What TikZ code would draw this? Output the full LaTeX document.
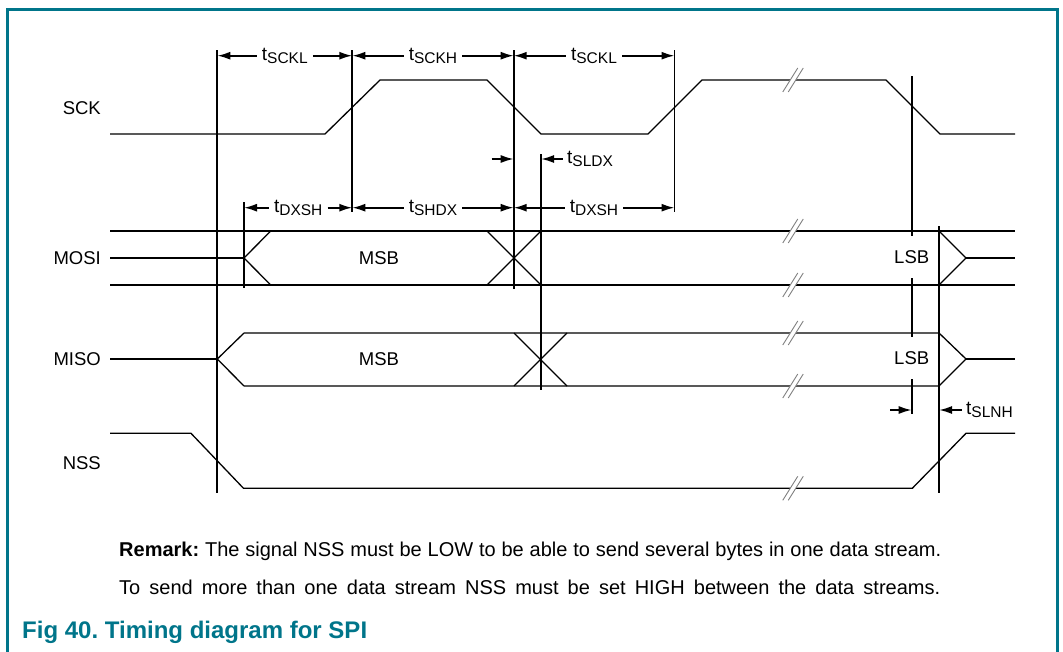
\documentclass[tikz,border=0pt]{standalone}
\usepackage{fontspec}
\setmainfont{Liberation Sans}
\usetikzlibrary{arrows.meta}
\definecolor{nxpteal}{RGB}{0,117,138}
\frenchspacing
\newcommand{\tsub}[1]{t\raisebox{-3.5pt}{\fontsize{15.5}{16}\selectfont #1}}
\newcommand{\brkmark}[1]{%
  \begin{scope}[shift={(#1)}]
    \draw[white, line width=4.8pt] (-7.5,12) -- (7.5,-12);
    \draw[gray, line width=0.9pt] (-10.25,12) -- (4.75,-12);
    \draw[gray, line width=0.9pt] (-4.75,12) -- (10.25,-12);
  \end{scope}}
\begin{document}
\begin{tikzpicture}[x=1pt,y=-1pt,
  vl/.style={line width=1.8pt},
  sig/.style={line width=1.3pt, line join=miter},
  dim/.style={line width=1.8pt,-{Latex[length=13pt,width=8pt]}},
  lab/.style={font=\fontsize{18.5}{22}\selectfont, inner sep=0pt},
  tlab/.style={font=\fontsize{19}{22}\selectfont, inner xsep=5pt, inner ysep=0pt},
  lsb/.style={font=\fontsize{18.5}{22}\selectfont, fill=white, inner xsep=2pt, inner ysep=0pt, minimum height=42pt}]
\useasboundingbox (0,0) rectangle (1063,651);
% frame
\draw[nxpteal, line width=3pt] (7.5,652) -- (7.5,9.5) -- (1057,9.5) -- (1057,652);

% signal names
\node[lab, anchor=east] (nsck) at (101,108) {SCK};
\node[lab, anchor=east] (nmosi) at (101,258) {MOSI};
\node[lab, anchor=east] (nmiso) at (101,359) {MISO};
\node[lab, anchor=east] (nnss) at (101,463) {NSS};

% SCK
\draw[sig] (110,134) -- (325,134) -- (380,80) -- (487,80) -- (541,134) -- (648,134) -- (702,80) -- (886,80) -- (940,134) -- (1015,134);
% MOSI
\draw[sig] (110,231) -- (1015,231);
\draw[sig] (110,285) -- (1015,285);
\draw[line width=1.8pt] (110,258) -- (164,258);
\draw[sig] (164,258) -- (244,258);
\draw[sig] (270.7,231) -- (244,258) -- (270.7,285);
\draw[sig] (487,231) -- (541,285);
\draw[sig] (487,285) -- (541,231);
\draw[sig] (939,231) -- (966,258) -- (939,285);
\draw[sig] (966,258) -- (1015,258);
% MISO
\draw[sig] (110,359) -- (217.3,359);
\draw[sig] (244,333) -- (217.3,359) -- (244,386);
\draw[sig] (244,333) -- (939,333) -- (966,359) -- (939,386) -- (244,386);
\draw[sig] (514,333) -- (567,386);
\draw[sig] (514,386) -- (567,333);
\draw[sig] (966,359) -- (1015,359);
% NSS
\draw[sig] (110,433.3) -- (191,433.3) -- (243.5,488.3) -- (912.3,488.3) -- (966,433.3) -- (1015,433.3);

% breaks
\brkmark{793,80}
\brkmark{793,231}
\brkmark{793,285}
\brkmark{793,333}
\brkmark{793,386}
\brkmark{793,488.3}

% vertical reference lines
\coordinate (v1t) at (217.3,50);  \coordinate (v1b) at (217.3,493);
\coordinate (v2t) at (352.3,50);  \coordinate (v2b) at (352.3,212);
\coordinate (v3t) at (513.7,50);  \coordinate (v3b) at (513.7,289);
\coordinate (v4t) at (674.5,50);  \coordinate (v4b) at (674.5,212);
\coordinate (vdt) at (244,202);   \coordinate (vdb) at (244,288);
\coordinate (vst) at (541,154);   \coordinate (vsb) at (541,390);
\coordinate (v5t) at (911.7,76);  \coordinate (v5b) at (911.7,414);
\coordinate (v6t) at (939,226);   \coordinate (v6b) at (939,493);
\draw[vl] (v1t) -- (v1b);
\draw[vl] (v2t) -- (v2b);
\draw[vl] (v3t) -- (v3b);
\draw[vl] (v4t) -- (v4b);
\draw[vl] (vdt) -- (vdb);
\draw[vl] (vst) -- (vsb);
\draw[vl] (v5t) -- (v5b);
\draw[vl] (v6t) -- (v6b);

% data labels
\node[lab] (msb1) at (379,258) {MSB};
\node[lab] (msb2) at (379,359) {MSB};
\node[lsb] (lsb1) at (911.7,257) {LSB};
\node[lsb] (lsb2) at (911.7,358) {LSB};

% timing row 1
\node[tlab] (sckl1) at (284.8,55.7) {\tsub{SCKL}};
\node[tlab] (sckh) at (433,55.7) {\tsub{SCKH}};
\node[tlab] (sckl2) at (594,55.7) {\tsub{SCKL}};
\draw[dim] (sckl1.west) -- (sckl1.west -| v1t);
\draw[dim] (sckl1.east) -- (sckl1.east -| v2t);
\draw[dim] (sckh.west) -- (sckh.west -| v2t);
\draw[dim] (sckh.east) -- (sckh.east -| v3t);
\draw[dim] (sckl2.west) -- (sckl2.west -| v3t);
\draw[dim] (sckl2.east) -- (sckl2.east -| v4t);

% timing row 2: tSLDX
\node[tlab, anchor=west, inner xsep=0pt] (sldx) at (567,159) {\tsub{SLDX}};
\coordinate (sldxa) at (491.7,159);
\coordinate (sldxb) at (562.7,159);
\draw[dim] (sldxa) -- (sldxa -| v3t);
\draw[dim] (sldxb) -- (sldxb -| vst);

% timing row 3
\node[tlab] (dxsh1) at (298.2,207.7) {\tsub{DXSH}};
\node[tlab] (shdx) at (433,207.7) {\tsub{SHDX}};
\node[tlab] (dxsh2) at (594,207.7) {\tsub{DXSH}};
\draw[dim] (dxsh1.west) -- (dxsh1.west -| vdt);
\draw[dim] (dxsh1.east) -- (dxsh1.east -| v2t);
\draw[dim] (shdx.west) -- (shdx.west -| v2t);
\draw[dim] (shdx.east) -- (shdx.east -| v3t);
\draw[dim] (dxsh2.west) -- (dxsh2.west -| v3t);
\draw[dim] (dxsh2.east) -- (dxsh2.east -| v4t);

% timing row 4: tSLNH
\node[tlab, anchor=west, inner xsep=0pt] (slnh) at (966,410) {\tsub{SLNH}};
\coordinate (slnha) at (890,410);
\coordinate (slnhb) at (961.7,410);
\draw[dim] (slnha) -- (slnha -| v5t);
\draw[dim] (slnhb) -- (slnhb -| v6t);

% remark
\node[anchor=base west, inner sep=0pt, font=\fontsize{20}{24}\selectfont] (rem1) at (119,556.7) {\makebox[822pt][s]{\textbf{Remark:} The signal NSS must be LOW to be able to send several bytes in one data stream.}};
\node[anchor=base west, inner sep=0pt, font=\fontsize{20}{24}\selectfont] (rem2) at (119,594) {\makebox[821pt][s]{To send more than one data stream NSS must be set HIGH between the data streams.}};
% caption
\node[anchor=base west, inner sep=0pt, font=\fontsize{24}{28}\selectfont\bfseries, text=nxpteal] (cap) at (22,638.3) {Fig 40. Timing diagram for SPI};
\end{tikzpicture}
\end{document}
